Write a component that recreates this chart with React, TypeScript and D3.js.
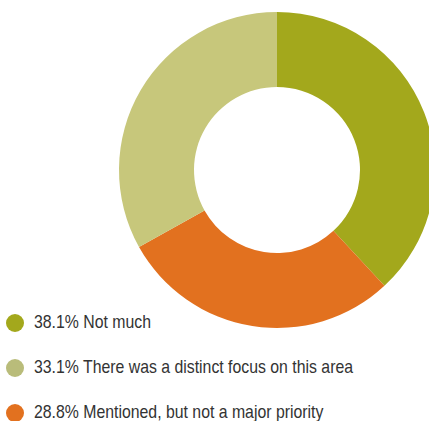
import React from "react";
import * as d3 from "d3";

const labels = ["Not much", "Mentioned, but not a major priority", "There was a distinct focus on this area"];
const values = [38.1, 28.8, 33.1];
const colors = ["#a3a81c", "#e2711f", "#c7c77b"];
const legendOrder = [0, 2, 1];

export default function App() {
  const W = 429, H = 421;
  const cx = 277, cy = 170, R = 158, r = 83;
  const pie = d3.pie<number>().sort(null).value((d) => d)(values);
  const arc = d3.arc<d3.PieArcDatum<number>>().innerRadius(r).outerRadius(R);
  const ly = d3.scalePoint<number>().domain(legendOrder).range([323, 413]);
  return (
    <svg width={W} height={H} style={{ position: "absolute", left: 0, top: 0 }}>
      <rect width={W} height={H} fill="#fff" />
      <g transform={`translate(${cx},${cy})`}>
        {pie.map((p, i) => (
          <path key={i} d={arc(p) || ""} fill={colors[i]} />
        ))}
      </g>
      {legendOrder.map((i) => (
        <g key={i} transform={`translate(0,${ly(i)})`}>
          <circle cx={15} cy={0} r={9} fill={i === 2 ? "#b9bc7a" : colors[i]} />
          <g transform="translate(34,5) scale(0.88,1)">
            <text x={0} y={0} fontFamily="'Liberation Sans', Arial, sans-serif" fontSize={18} fill="#333">
              {`${values[i].toFixed(1)}% ${labels[i]}`}
            </text>
          </g>
        </g>
      ))}
    </svg>
  );
}
